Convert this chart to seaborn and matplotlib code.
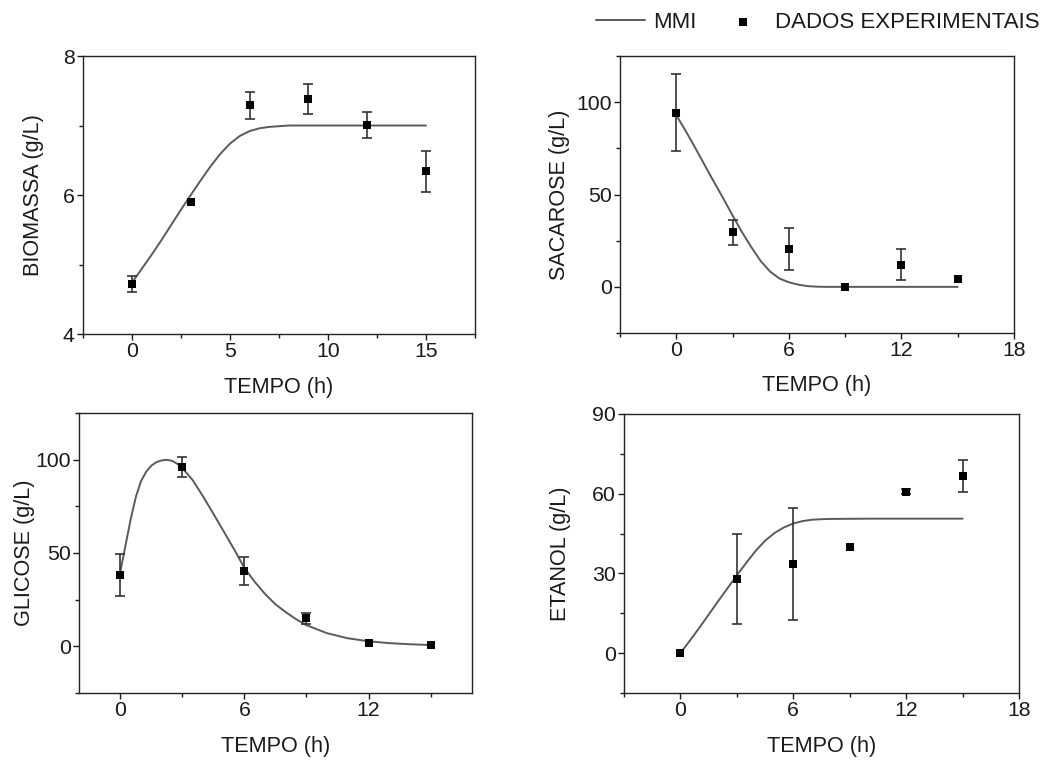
import numpy as np
import pandas as pd
import seaborn as sns
import matplotlib.pyplot as plt
from matplotlib.ticker import MultipleLocator

# experimental points (TEMPO em h)
tempoExp = [0, 3, 6, 9, 12, 15]

biomassaExp = [4.72, 5.90, 7.29, 7.38, 7.01, 6.34]
biomassaErr = [0.11, 0.0, 0.19, 0.22, 0.19, 0.29]

sacaroseExp = [94.4, 29.5, 20.7, 0.0, 12.1, 4.1]
sacaroseErr = [20.7, 6.8, 11.3, 0.0, 8.6, 0.0]

glicoseExp = [38.4, 95.9, 40.5, 14.9, 2.0, 0.5]
glicoseErr = [11.2, 5.3, 7.4, 3.0, 0.0, 0.0]

etanolExp = [0.0, 27.8, 33.6, 39.8, 60.7, 66.7]
etanolErr = [0.0, 17.0, 21.2, 0.0, 1.0, 6.0]

# model curves (MMI)
tempoBio = [0, 0.5, 1, 1.5, 2, 2.5, 3, 3.5, 4, 4.5, 5, 5.5, 6, 6.5, 7, 7.5, 8, 10, 12, 15]
biomassaMMI = [4.74, 4.94, 5.14, 5.35, 5.57, 5.79, 6.00, 6.21, 6.41, 6.59, 6.74, 6.85,
               6.92, 6.96, 6.98, 6.99, 7.00, 7.00, 7.00, 7.00]

tempoSac = [0, 0.5, 1, 1.5, 2, 2.5, 3, 3.5, 4, 4.5, 5, 5.5, 6, 6.5, 7, 7.5, 8, 10, 12, 15]
sacaroseMMI = [93.0, 84.5, 75.5, 66.2, 57.0, 48.0, 38.7, 29.7, 21.5, 14.0, 8.3, 4.5,
               2.5, 1.2, 0.4, 0.1, 0.0, 0.0, 0.0, 0.0]

tempoGli = [0, 0.25, 0.5, 0.75, 1, 1.25, 1.5, 1.75, 2, 2.25, 2.5, 2.75, 3, 3.5, 4, 4.5,
            5, 5.5, 6, 6.5, 7, 7.5, 8, 8.5, 9, 10, 11, 12, 13, 14, 15]
glicoseMMI = [40.0, 54.0, 68.0, 80.0, 88.5, 93.5, 96.8, 98.7, 99.6, 99.9, 99.4, 97.8,
              95.5, 89.0, 80.3, 71.0, 61.5, 52.0, 42.0, 34.5, 28.0, 22.5, 18.3, 14.5,
              11.3, 7.0, 4.3, 2.7, 1.7, 1.1, 0.7]

tempoEta = [0, 0.5, 1, 1.5, 2, 2.5, 3, 3.5, 4, 4.5, 5, 5.5, 6, 6.5, 7, 7.5, 8, 10, 12, 15]
etanolMMI = [0.0, 4.7, 9.5, 14.5, 19.5, 24.4, 29.3, 34.0, 38.5, 42.3, 45.2, 47.3,
             48.8, 49.7, 50.2, 50.4, 50.5, 50.6, 50.6, 50.6]

sns.set_style("ticks")
plt.rcParams["font.family"] = ["Liberation Sans", "DejaVu Sans"]
plt.rcParams["font.size"] = 15
plt.rcParams["axes.linewidth"] = 1.0
plt.rcParams["text.color"] = "#1a1a1a"
plt.rcParams["axes.labelcolor"] = "#1a1a1a"
plt.rcParams["xtick.color"] = "#1a1a1a"
plt.rcParams["ytick.color"] = "#1a1a1a"

fig = plt.figure(figsize=(10.43, 7.6), dpi=100)

panels = [
    dict(rect=[0.0796, 0.5605, 0.3758, 0.3658], tc=tempoBio, mc=biomassaMMI,
         ye=biomassaExp, err=biomassaErr, label="BIOMASSA (g/L)",
         xlim=(-2.5, 17.5), ylim=(4, 8), xmaj=5, xmin=2.5, ymaj=2, ymin=1, lx=-0.0995),
    dict(rect=[0.5944, 0.5618, 0.3778, 0.3645], tc=tempoSac, mc=sacaroseMMI,
         ye=sacaroseExp, err=sacaroseErr, label="SACAROSE (g/L)",
         xlim=(-3, 18), ylim=(-25, 125), xmaj=6, xmin=3, ymaj=50, ymin=25, lx=-0.127),
    dict(rect=[0.0757, 0.0882, 0.3768, 0.3684], tc=tempoGli, mc=glicoseMMI,
         ye=glicoseExp, err=glicoseErr, label="GLICOSE (g/L)",
         xlim=(-2, 17), ylim=(-25, 125), xmaj=6, xmin=3, ymaj=50, ymin=25, lx=-0.112),
    dict(rect=[0.5983, 0.0882, 0.3787, 0.3671], tc=tempoEta, mc=etanolMMI,
         ye=etanolExp, err=etanolErr, label="ETANOL (g/L)",
         xlim=(-3, 18), ylim=(-15, 90), xmaj=6, xmin=3, ymaj=30, ymin=15, lx=-0.134),
]

for i, p in enumerate(panels):
    ax = fig.add_axes(p["rect"])
    curve = pd.DataFrame({"t": p["tc"], "v": p["mc"]})
    pts = pd.DataFrame({"t": tempoExp, "v": p["ye"], "e": p["err"]})

    sns.lineplot(data=curve, x="t", y="v", ax=ax, color="#5a5a5a", linewidth=1.4,
                 label="MMI" if i == 0 else None, legend=False)
    withErr = pts[pts["e"] > 0]
    ax.errorbar(withErr["t"], withErr["v"], yerr=withErr["e"], fmt="none",
                ecolor="#333333", elinewidth=1.2, capsize=3.5, capthick=1.2, zorder=3)
    sns.scatterplot(data=pts, x="t", y="v", ax=ax, marker="s", s=34, color="black",
                    edgecolor="black", linewidth=0, zorder=4,
                    label="DADOS EXPERIMENTAIS" if i == 0 else None, legend=False)

    ax.set_xlim(*p["xlim"])
    ax.set_ylim(*p["ylim"])
    ax.xaxis.set_major_locator(MultipleLocator(p["xmaj"]))
    ax.xaxis.set_minor_locator(MultipleLocator(p["xmin"]))
    ax.yaxis.set_major_locator(MultipleLocator(p["ymaj"]))
    ax.yaxis.set_minor_locator(MultipleLocator(p["ymin"]))
    ax.tick_params(which="major", direction="out", length=4, width=1, pad=2, labelsize=15.3)
    ax.tick_params(which="minor", direction="out", length=3, width=1)
    ax.tick_params(top=False, right=False, which="both")
    for s in ax.spines.values():
        s.set_visible(True)
        s.set_color("#222222")

    ax.set_xlabel("TEMPO (h)", fontsize=15.6)
    ax.set_ylabel(p["label"], fontsize=15.6)
    ax.xaxis.set_label_coords(0.5, -0.153)
    ax.yaxis.set_label_coords(p["lx"], 0.5)

    if i == 0:
        handles, labels = ax.get_legend_handles_labels()

fig.legend(handles, labels, loc="center right", bbox_to_anchor=(1040 / 1043, 0.971),
           ncol=2, frameon=False, fontsize=16, handlelength=2.2, handletextpad=0.35,
           columnspacing=1.0, borderpad=0, borderaxespad=0)

fig.savefig("out.png", dpi=100)
